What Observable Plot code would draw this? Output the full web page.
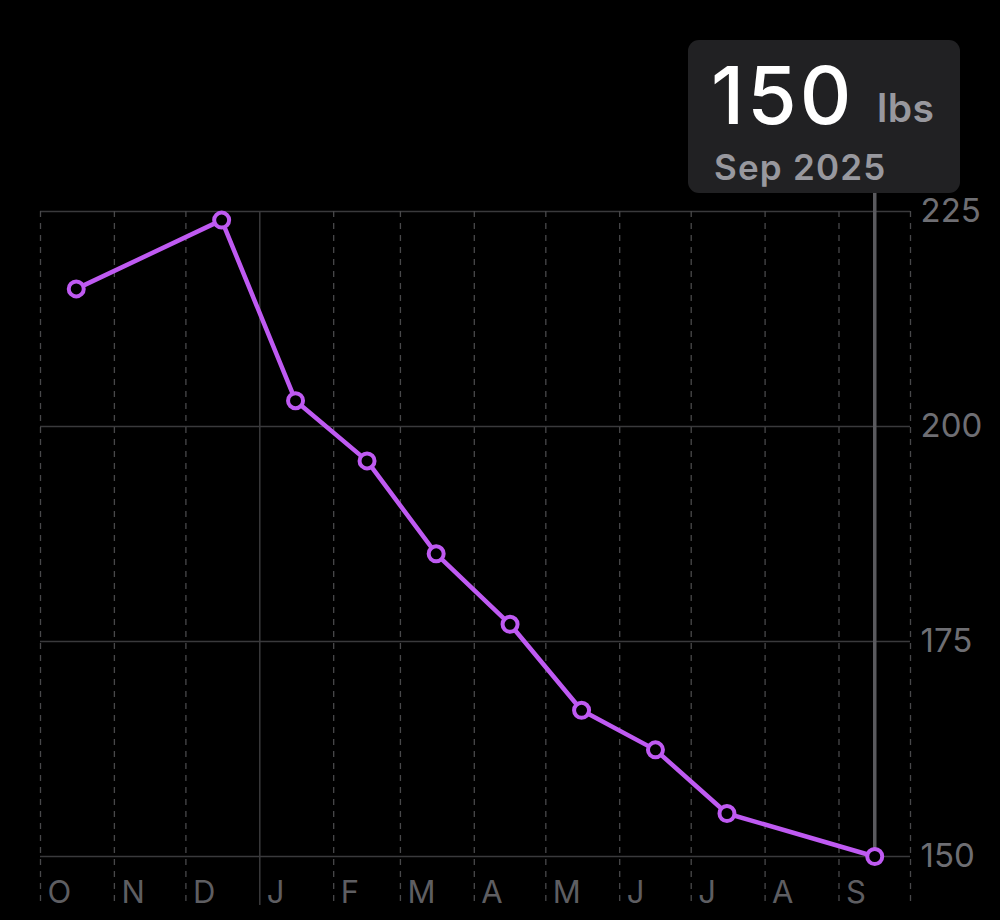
<!DOCTYPE html>
<html>
<head>
<meta charset="utf-8">
<script src="https://cdn.jsdelivr.net/npm/d3@7"></script>
<script src="https://cdn.jsdelivr.net/npm/@observablehq/plot@0.6"></script>
<style>
  html, body { margin: 0; padding: 0; background: #000; }
  #wrap { position: relative; width: 1000px; height: 920px; background: #000; font-family: Inter, "Noto Sans", sans-serif; }
  #tip { position: absolute; left: 688px; top: 40px; width: 272px; height: 153px; background: #212123; border-radius: 11px; }
  #tip .val { position: absolute; left: 23px; top: 15px; font-size: 80px; font-weight: 500; color: #fff; letter-spacing: 3px; line-height: 1; }
  #tip .unit { position: absolute; left: 189px; top: 48px; font-size: 39px; font-weight: 600; color: #98989e; line-height: 1; letter-spacing: 0.5px; }
  #tip .date { position: absolute; left: 26px; top: 110px; font-size: 35px; font-weight: 600; color: #98989e; line-height: 1; letter-spacing: 1.2px; }
</style>
</head>
<body>
<div id="wrap"></div>
<script>
// ---- data ----
const dates = ["2024-10-16", "2024-12-16", "2025-01-16", "2025-02-15", "2025-03-16", "2025-04-16", "2025-05-16", "2025-06-16", "2025-07-16", "2025-09-16"];
const weights = [216, 224, 203, 196, 185.2, 177, 167, 162.4, 155, 150];
const monthStarts = ["2024-10-01", "2024-11-01", "2024-12-01", "2025-01-01", "2025-02-01", "2025-03-01", "2025-04-01", "2025-05-01", "2025-06-01", "2025-07-01", "2025-08-01", "2025-09-01", "2025-10-01"];
const monthLabels = ["O", "N", "D", "J", "F", "M", "A", "M", "J", "J", "A", "S"];
const yTicks = [150, 175, 200, 225];
const unitLabel = "lbs";

const parse = d3.utcParse("%Y-%m-%d");
const data = dates.map((d, i) => ({date: parse(d), weight: weights[i]}));
const bounds = monthStarts.map(parse);
const yearBound = bounds.filter(d => d.getUTCMonth() === 0);
const dashedBounds = bounds.filter(d => d.getUTCMonth() !== 0);
const labels = monthLabels.map((m, i) => ({date: bounds[i], label: m}));
const last = data[data.length - 1];

const purple = "#bf5af2";
const gridColor = "#3a3a3c";

const chart = Plot.plot({
  width: 1000,
  height: 920,
  marginLeft: 40,
  marginRight: 90,
  marginTop: 211,
  marginBottom: 64,
  style: {background: "transparent", overflow: "visible", fontFamily: "Inter, 'Noto Sans', sans-serif"},
  x: {type: "utc", domain: [bounds[0], bounds[bounds.length - 1]], axis: null},
  y: {domain: [150, 225], axis: null},
  marks: [
    // horizontal grid
    Plot.ruleY(yTicks, {stroke: gridColor, strokeWidth: 1.5}),
    // vertical month grid (dashed)
    Plot.ruleX(dashedBounds, {stroke: "#48484a", strokeWidth: 1.3, strokeDasharray: "6,6", insetBottom: -49}),
    // year boundary (solid)
    Plot.ruleX(yearBound, {stroke: gridColor, strokeWidth: 1.5, insetBottom: -49}),
    // y tick labels on right
    Plot.text(yTicks, {y: d => d, text: d => String(d), frameAnchor: "right", textAnchor: "start", dx: 10, fill: "#6e6e73", fontSize: 33, letterSpacing: 0.5}),
    // month labels
    Plot.text(labels, {x: "date", text: "label", frameAnchor: "bottom", textAnchor: "start", dx: 7, dy: 37, fill: "#5e5e62", fontSize: 31, lineAnchor: "middle"}),
    // selection rule
    Plot.ruleX([last], {x: "date", y1: () => 225, y2: "weight", insetTop: -18, stroke: "#5a5a5e", strokeWidth: 3.5}),
    // line + points
    Plot.line(data, {x: "date", y: "weight", stroke: purple, strokeWidth: 4.5, strokeLinejoin: "round"}),
    Plot.dot(data, {x: "date", y: "weight", r: 7.5, stroke: purple, strokeWidth: 4, fill: "#000"})
  ]
});

const wrap = document.getElementById("wrap");
wrap.appendChild(chart);

const tip = document.createElement("div");
tip.id = "tip";
const fmt = d3.utcFormat("%b %Y");
tip.innerHTML = `<span class="val">${last.weight}</span><span class="unit">${unitLabel}</span><span class="date">${fmt(last.date)}</span>`;
wrap.appendChild(tip);
</script>
</body>
</html>
